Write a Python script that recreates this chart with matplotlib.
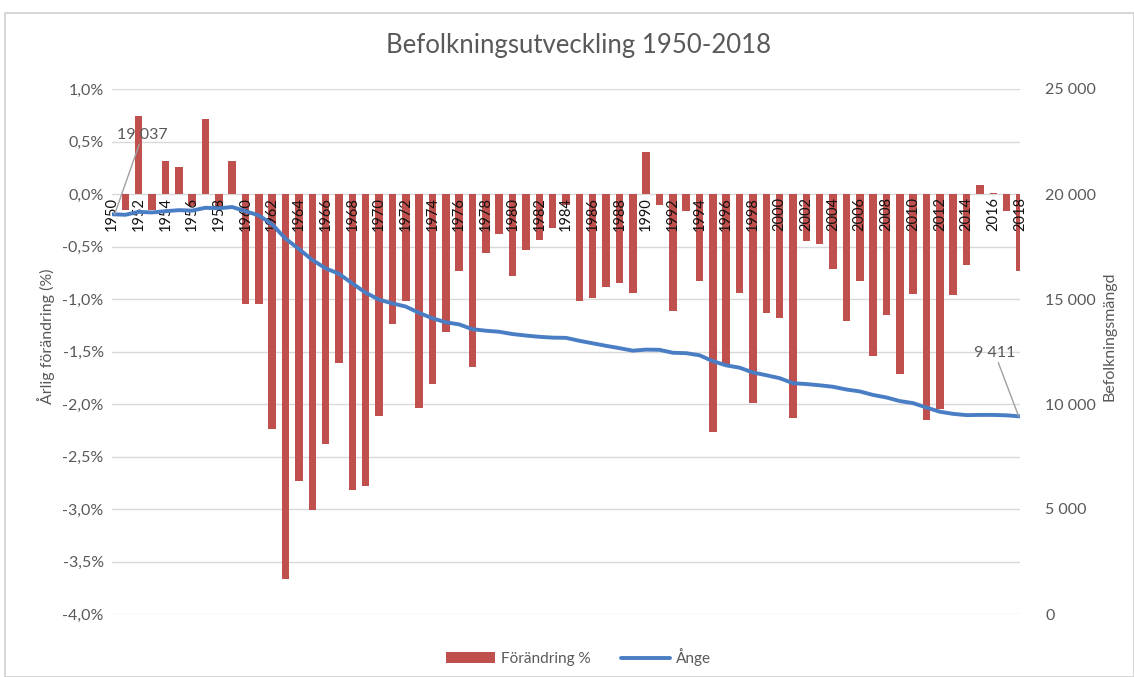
import matplotlib
matplotlib.use("Agg")
import matplotlib.pyplot as plt
from matplotlib.ticker import FuncFormatter, MultipleLocator, FixedLocator
from matplotlib.patches import Rectangle

plt.rcParams['font.family'] = ['Lato', 'DejaVu Sans']

years = list(range(1950, 2019))

change_pct = [
    0.00, -0.15, 0.74, -0.15, 0.31, 0.26, -0.11, 0.71, -0.12, 0.31,
    -1.05, -1.05, -2.24, -3.67, -2.73, -3.01, -2.38, -1.61, -2.82, -2.78,
    -2.11, -1.24, -1.02, -2.04, -1.81, -1.31, -0.73, -1.65, -0.56, -0.38,
    -0.78, -0.53, -0.44, -0.32, -0.10, -1.02, -0.99, -0.89, -0.85, -0.94,
    0.40, -0.10, -1.11, -0.16, -0.83, -2.27, -1.64, -0.94, -1.99, -1.13,
    -1.18, -2.13, -0.45, -0.48, -0.71, -1.21, -0.83, -1.54, -1.15, -1.71,
    -0.95, -2.15, -2.05, -0.96, -0.68, 0.09, 0.01, -0.16, -0.73,
]

population = [
    19037, 19010, 19150, 19120, 19180, 19230, 19210, 19345, 19320, 19380,
    19180, 18980, 18550, 17870, 17380, 16860, 16460, 16200, 15740, 15300,
    14970, 14790, 14640, 14340, 14080, 13890, 13790, 13560, 13490, 13440,
    13330, 13260, 13200, 13160, 13150, 13010, 12890, 12770, 12660, 12540,
    12590, 12580, 12440, 12420, 12320, 12040, 11840, 11730, 11500, 11370,
    11230, 10990, 10950, 10890, 10820, 10690, 10600, 10430, 10310, 10140,
    10040, 9830, 9630, 9530, 9470, 9480, 9480, 9460, 9411,
]

label_years = list(range(1950, 2019, 2))

title = "Befolkningsutveckling 1950-2018"
left_label = "Årlig förändring (%)"
right_label = "Befolkningsmängd"
bar_name = "Förändring %"
line_name = "Ånge"

BAR = "#C0504D"
LINE = "#4A7EC4"
GRAY = "#595959"
GRID = "#D9D9D9"

fig = plt.figure(figsize=(11.34, 6.77), dpi=100)
ax = fig.add_axes([112 / 1134, 1 - 614 / 677, (1020 - 112) / 1134, (614 - 89) / 677])

# chart frame
fig.patches.append(Rectangle((5 / 1134, 0), 1 - 5 / 1134, 1 - 13 / 677,
                             transform=fig.transFigure, fill=False,
                             edgecolor="#D0D0D0", linewidth=1.2))

bars = ax.bar(years, change_pct, width=0.56, color=BAR, zorder=2, label=bar_name)
ax.set_xlim(1950, 2018)
ax.set_ylim(-4.0, 1.0)
ax.yaxis.set_major_locator(MultipleLocator(0.5))
ax.yaxis.set_major_formatter(FuncFormatter(lambda v, p: f"{v:.1f}%".replace(".", ",").replace("-0,0", "0,0")))
ax.grid(axis="y", color=GRID, linewidth=1.0, zorder=0)
ax.set_axisbelow(True)
for s in ax.spines.values():
    s.set_visible(False)
ax.spines['bottom'].set_position(('data', 0))
ax.xaxis.set_major_locator(FixedLocator(label_years))
ax.set_xticklabels([str(y) for y in label_years], rotation=90, fontsize=10.5,
                   color="#111111", va="top")
ax.xaxis.set_zorder(5)
ax.tick_params(axis="x", length=0, pad=2)
ax.tick_params(axis="y", length=0, labelsize=11.5, labelcolor=GRAY, pad=6)
ax.set_ylabel(left_label, fontsize=11.5, color=GRAY)
ax.yaxis.set_label_coords(-0.063, 0.53)

ax2 = ax.twinx()
ax2.set_ylim(0, 25000)
ax2.yaxis.set_major_locator(MultipleLocator(5000))
ax2.yaxis.set_major_formatter(FuncFormatter(lambda v, p: f"{int(v):,}".replace(",", " ")))
for s in ax2.spines.values():
    s.set_visible(False)
ax2.tick_params(axis="y", length=0, labelsize=11.5, labelcolor=GRAY, pad=18)
line, = ax2.plot(years, population, color=LINE, linewidth=2.8, zorder=3, label=line_name,
                 solid_capstyle="round")
ax2.set_ylabel(right_label, fontsize=11.5, color=GRAY)
ax2.yaxis.set_label_coords(1.091, 0.53)

# data labels with leader lines
ax2.annotate(f"{population[0]:,}".replace(",", " "), xy=(years[0] + 0.2, population[0]),
             xytext=(years[0] + 0.4, 22500), fontsize=11.5, color=GRAY,
             ha="left", va="bottom",
             arrowprops=dict(arrowstyle="-", color="#A0A0A0", linewidth=1, shrinkA=0, shrinkB=0))
ax2.annotate(f"{population[-1]:,}".replace(",", " "), xy=(years[-1] - 0.1, population[-1]),
             xytext=(years[-1] - 1.9, 12100), fontsize=11.5, color=GRAY,
             ha="center", va="bottom",
             arrowprops=dict(arrowstyle="-", color="#A0A0A0", linewidth=1, shrinkA=0, shrinkB=0))

fig.text(579 / 1134, 1 - 45 / 677, title, ha="center", va="center", fontsize=18.5, color=GRAY)

fig.legend([bars, line], [bar_name, line_name], loc="center", bbox_to_anchor=(0.51, 1 - 657 / 677),
           ncol=2, frameon=False, fontsize=11, labelcolor=GRAY, handlelength=3.2,
           handleheight=0.7, columnspacing=2.0, handletextpad=0.4)

fig.savefig("out.png", dpi=100)
